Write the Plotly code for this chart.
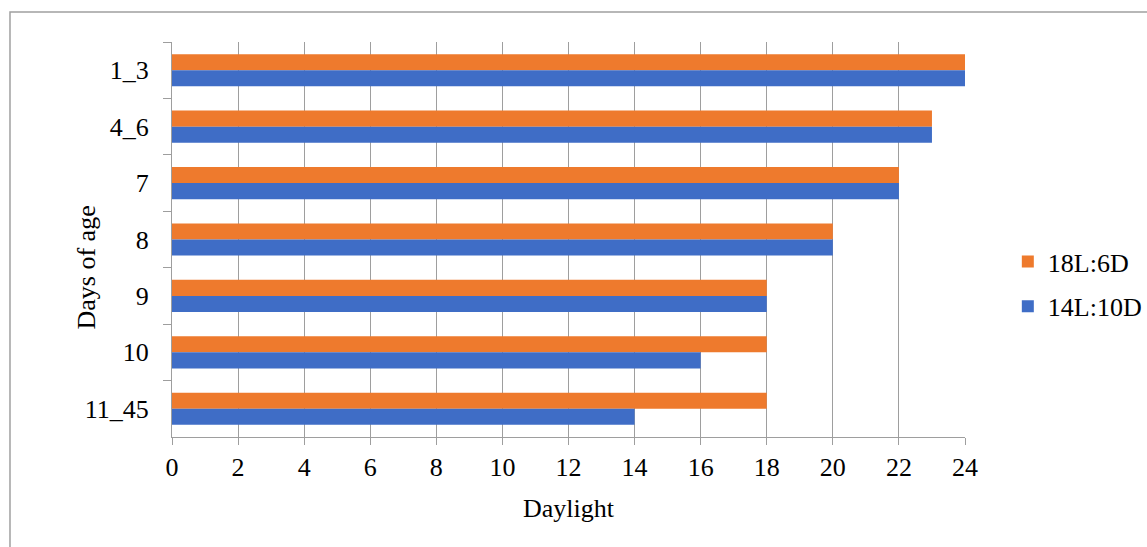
import plotly.graph_objects as go

# Lighting programme: hours of daylight by age
days_of_age = ["1_3", "4_6", "7", "8", "9", "10", "11_45"]
daylight_18L_6D = [24, 23, 22, 20, 18, 18, 18]
daylight_14L_10D = [24, 23, 22, 20, 18, 16, 14]
x_ticks = list(range(0, 25, 2))

FONT = "Liberation Serif, Times New Roman, serif"
FS = 26
GRID = "#9E9E9E"

fig = go.Figure()
fig.add_trace(go.Bar(
    name="18L:6D", y=days_of_age, x=daylight_18L_6D, orientation="h",
    legendgroup="a", marker=dict(color="#EE7A2D", line=dict(width=0)),
))
fig.add_trace(go.Bar(
    name="14L:10D", y=days_of_age, x=daylight_14L_10D, orientation="h",
    legendgroup="b", marker=dict(color="#3F6DC6", line=dict(width=0)),
))

fig.update_layout(
    width=1147, height=547,
    margin=dict(l=172, r=182, t=42, b=110, autoexpand=False),
    paper_bgcolor="white", plot_bgcolor="white",
    barmode="group", bargap=0.43, bargroupgap=0,
    font=dict(family=FONT, size=FS, color="black"),
    showlegend=True,
    legend=dict(x=1.054, y=0.387, xanchor="left", yanchor="middle",
                font=dict(family=FONT, size=FS, color="black"),
                itemwidth=30, tracegroupgap=8,
                bgcolor="rgba(0,0,0,0)"),
    xaxis=dict(
        range=[0, 24], tickvals=x_ticks, ticktext=[str(v) for v in x_ticks],
        showgrid=True, gridcolor=GRID, gridwidth=1,
        showline=True, linecolor=GRID, linewidth=1,
        ticks="outside", ticklen=7, tickcolor=GRID,
        zeroline=False,
        tickfont=dict(family=FONT, size=FS),
    ),
    yaxis=dict(
        type="category", autorange="reversed",
        showgrid=False, showline=True, linecolor=GRID, linewidth=1,
        ticks="outside", ticklen=8, tickcolor=GRID, tickson="boundaries",
        ticklabelstandoff=17,
        tickfont=dict(family=FONT, size=FS),
    ),
    annotations=[
        dict(text="Daylight", xref="paper", yref="paper", x=0.5, y=-0.18,
             xanchor="center", yanchor="middle", showarrow=False,
             font=dict(family=FONT, size=FS)),
        dict(text="Days of age", xref="paper", yref="paper", x=-0.108, y=0.43,
             xanchor="center", yanchor="middle", textangle=-90, showarrow=False,
             font=dict(family=FONT, size=FS)),
    ],
    shapes=[dict(
        type="rect", xref="paper", yref="paper",
        x0=-0.2043, x1=1.35, y0=-0.5, y1=1.0759,
        line=dict(color="#A0A0A0", width=1.5), fillcolor="rgba(0,0,0,0)",
        layer="below",
    )],
)

fig.write_html("out.html")
